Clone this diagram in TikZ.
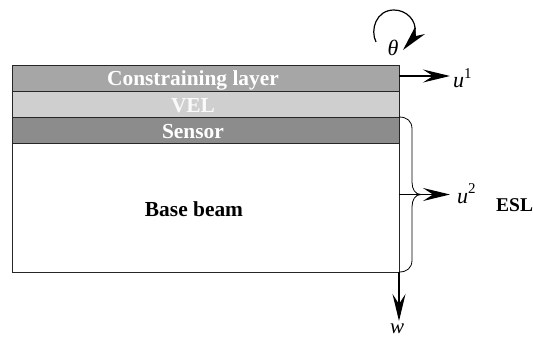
\documentclass[tikz,border=0pt]{standalone}
\usepackage{fontspec}
\setmainfont{Liberation Serif}
\usetikzlibrary{arrows.meta,calc}
\definecolor{layerA}{gray}{0.65}
\definecolor{layerB}{gray}{0.81}
\definecolor{layerC}{gray}{0.55}
\tikzset{
  px/.style={x=1pt,y=-1pt},
  layer/.style={draw=black!85,line width=0.9pt},
  lab/.style={font=\fontsize{21.4}{24}\selectfont\bfseries,inner sep=0pt,anchor=base},
  sym/.style={font=\fontsize{22}{26}\selectfont\itshape,inner sep=0pt,anchor=base west},
  axis/.style={line width=1.3pt,-{Stealth[length=27pt,width=13pt,inset=10pt]}},
  brace/.style={line width=0.8pt},
}
\newcommand{\supnum}[2]{\rlap{\raisebox{#1pt}{\fontsize{15}{17}\selectfont\upshape #2}}}
\begin{document}
\begin{tikzpicture}[px]
\useasboundingbox (0,0) rectangle (533,338);
\path[layer,fill=layerA] (12,65.5) rectangle (399,91.5);
\path[layer,fill=layerB] (12,91.5) rectangle (399,117);
\path[layer,fill=layerC] (12,117) rectangle (399,143);
\path[layer,fill=white] (12,143) rectangle (399,272);
\node[lab,text=white] (cl) at (193,85) {Constraining layer};
\node[lab,text=white!90!layerB] (vel) at (193,112) {VEL};
\node[lab,text=white] (sn) at (193,138) {Sensor};
\node[lab] (bb) at (194,216) {Base beam};
\coordinate (a1) at (399,76);
\coordinate (a1t) at (450,76);
\coordinate (a2) at (399,194.5);
\coordinate (a2t) at (450,194.5);
\coordinate (a3) at (399,272);
\coordinate (a3t) at (399,321);
\coordinate (st) at (399,117);
\coordinate (mid) at (421,194.5);
\node[sym] (u1) at (453,87) {u\supnum{9}{1}};
\node[sym] (u2) at (457,203) {u\supnum{10}{2}};
\node[lab,anchor=base west,font=\fontsize{19.5}{23}\selectfont\bfseries] (esl) at (496,211) {ESL};
\node[sym,anchor=base,font=\fontsize{21}{24}\selectfont\itshape] (w) at (397,333) {w};
\node[sym,anchor=base] (th) at (393,55) {θ};
\draw[axis] (a1) -- (a1t);
\draw[axis] (a2) -- (a2t);
\draw[axis] (a3) -- (a3t);
\draw[brace] (st) .. controls (407,117) and (412,121) .. (412,129) -- (412,182) .. controls (412,189) and (415,194.5) .. (mid);
\draw[brace] (a3) .. controls (407,272) and (412,268) .. (412,260) -- (412,207) .. controls (412,200) and (415,194.5) .. (mid);
\coordinate (th0) at (376,42);
\coordinate (thtip) at (403,50);
\draw[line width=1.2pt] (th0) .. controls (370,30) and (376,10) .. (394,10) .. controls (406,10) and (417,20) .. (415,33);
\fill[black] (thtip) -- (415,27) -- (416,36) -- (425,34) -- cycle;
\end{tikzpicture}
\end{document}
